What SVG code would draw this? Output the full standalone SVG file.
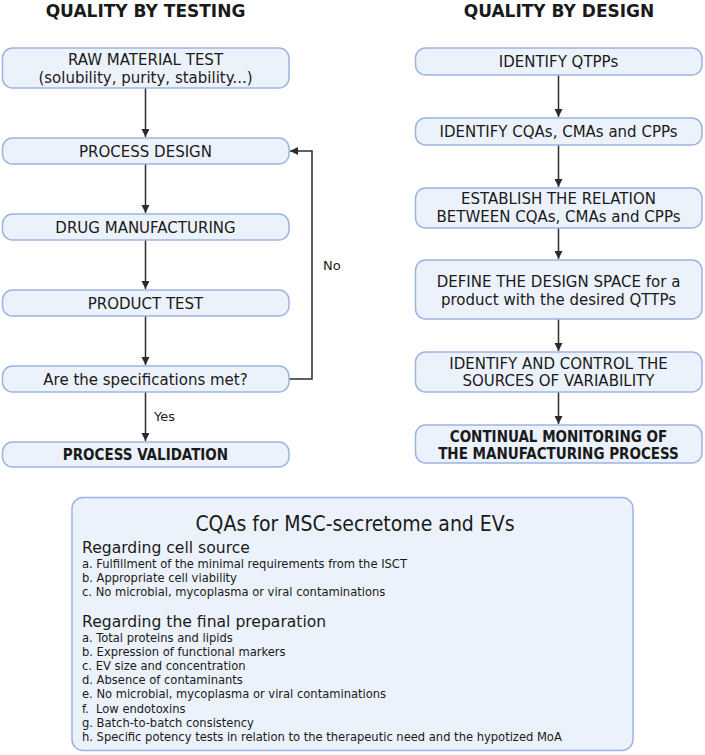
<svg xmlns="http://www.w3.org/2000/svg" width="705" height="755" viewBox="0 0 705 755">
<style>
text{font-family:"DejaVu Sans","Liberation Sans",sans-serif;fill:#1a1a1a}
.title{font-size:17px;font-weight:bold;text-anchor:middle}
.box{fill:#ecf2fb;stroke:#9db4e2;stroke-width:1.5}
.nt{font-size:15px;text-anchor:middle}
.cd{font-family:"DejaVu Sans Condensed","DejaVu Sans","Liberation Sans Narrow",sans-serif;font-stretch:condensed}
.b{font-weight:bold}
.lbl{font-size:13px}
.conn{fill:none;stroke:#2b2b2b;stroke-width:1.5}
.h1{font-size:21px;text-anchor:middle}
.h2{font-size:15.6px}
.it{font-size:12.8px;white-space:pre}
</style>
<defs>
<marker id="ah" viewBox="0 0 10 10" refX="10" refY="5" markerWidth="5.5" markerHeight="5.5" orient="auto" markerUnits="strokeWidth">
<path d="M0,0 L10,5 L0,10 z" fill="#2b2b2b"/>
</marker>
</defs>
<text class="title" x="145.5" y="17">QUALITY BY TESTING</text>
<text class="title" x="559" y="17">QUALITY BY DESIGN</text>

<g id="connectors">
<line class="conn" x1="145.5" y1="88" x2="145.5" y2="137" marker-end="url(#ah)"/>
<line class="conn" x1="145.5" y1="164" x2="145.5" y2="213" marker-end="url(#ah)"/>
<line class="conn" x1="145.5" y1="240" x2="145.5" y2="289" marker-end="url(#ah)"/>
<line class="conn" x1="145.5" y1="316" x2="145.5" y2="365" marker-end="url(#ah)"/>
<line class="conn" x1="145.5" y1="392" x2="145.5" y2="441" marker-end="url(#ah)"/>
<polyline class="conn" points="289,379 312,379 312,151 290,151" marker-end="url(#ah)"/>
<text class="lbl" x="323" y="270">No</text>
<text class="lbl" x="154" y="421">Yes</text>
<line class="conn" x1="558.5" y1="75" x2="558.5" y2="117" marker-end="url(#ah)"/>
<line class="conn" x1="558.5" y1="145" x2="558.5" y2="187" marker-end="url(#ah)"/>
<line class="conn" x1="558.5" y1="228" x2="558.5" y2="259" marker-end="url(#ah)"/>
<line class="conn" x1="558.5" y1="319" x2="558.5" y2="351" marker-end="url(#ah)"/>
<line class="conn" x1="558.5" y1="392" x2="558.5" y2="424" marker-end="url(#ah)"/>
</g>

<g id="raw-material-test">
<rect class="box" x="2.5" y="48" width="286.5" height="40" rx="10"/>
<text class="nt" x="145.5" y="65">RAW MATERIAL TEST</text>
<text class="nt" x="145.5" y="82.5">(solubility, purity, stability...)</text>
</g>
<g id="process-design">
<rect class="box" x="2.5" y="138" width="286.5" height="26" rx="10"/>
<text class="nt" x="145.5" y="156.5">PROCESS DESIGN</text>
</g>
<g id="drug-manufacturing">
<rect class="box" x="2.5" y="214" width="286.5" height="26" rx="10"/>
<text class="nt" x="145.5" y="232.5">DRUG MANUFACTURING</text>
</g>
<g id="product-test">
<rect class="box" x="2.5" y="290" width="286.5" height="26" rx="10"/>
<text class="nt" x="145.5" y="308.5">PRODUCT TEST</text>
</g>
<g id="specifications-met">
<rect class="box" x="2.5" y="366" width="286.5" height="26" rx="10"/>
<text class="nt" x="145.5" y="384.5">Are the specifications met?</text>
</g>
<g id="process-validation">
<rect class="box" x="2.5" y="442" width="286.5" height="25" rx="10"/>
<text class="nt cd b" x="145.5" y="460">PROCESS VALIDATION</text>
</g>

<g id="identify-qtpps">
<rect class="box" x="415.5" y="48" width="286.5" height="27" rx="10"/>
<text class="nt" x="558.5" y="67">IDENTIFY QTPPs</text>
</g>
<g id="identify-cqas">
<rect class="box" x="415.5" y="118" width="286.5" height="27" rx="10"/>
<text class="nt" x="558.5" y="137">IDENTIFY CQAs, CMAs and CPPs</text>
</g>
<g id="establish-relation">
<rect class="box" x="415.5" y="188" width="286.5" height="40" rx="10"/>
<text class="nt" x="558.5" y="204">ESTABLISH THE RELATION</text>
<text class="nt" x="558.5" y="221.5">BETWEEN CQAs, CMAs and CPPs</text>
</g>
<g id="define-design-space">
<rect class="box" x="415.5" y="260" width="286.5" height="59" rx="10"/>
<text class="nt" x="558.5" y="287">DEFINE THE DESIGN SPACE for a</text>
<text class="nt" x="558.5" y="304.5">product with the desired QTTPs</text>
</g>
<g id="control-variability">
<rect class="box" x="415.5" y="352" width="286.5" height="40" rx="10"/>
<text class="nt" x="558.5" y="368.5">IDENTIFY AND CONTROL THE</text>
<text class="nt" x="558.5" y="386">SOURCES OF VARIABILITY</text>
</g>
<g id="continual-monitoring">
<rect class="box" x="415.5" y="425" width="286.5" height="38" rx="10"/>
<text class="nt cd b" x="558.5" y="442">CONTINUAL MONITORING OF</text>
<text class="nt cd b" x="558.5" y="459">THE MANUFACTURING PROCESS</text>
</g>

<g id="cqas-box">
<rect class="box" x="72" y="497.5" width="561" height="253" rx="11"/>
<text class="h1 cd" x="355" y="531">CQAs for MSC-secretome and EVs</text>
<text class="h2" x="82" y="553">Regarding cell source</text>
<text class="it cd" x="82" y="568">a. Fulfillment of the minimal requirements from the ISCT</text>
<text class="it cd" x="82" y="582">b. Appropriate cell viability</text>
<text class="it cd" x="82" y="596">c. No microbial, mycoplasma or viral contaminations</text>
<text class="h2" x="82" y="627">Regarding the final preparation</text>
<text class="it cd" x="82" y="641.5">a. Total proteins and lipids</text>
<text class="it cd" x="82" y="655.7">b. Expression of functional markers</text>
<text class="it cd" x="82" y="669.9">c. EV size and concentration</text>
<text class="it cd" x="82" y="684.1">d. Absence of contaminants</text>
<text class="it cd" x="82" y="698.3">e. No microbial, mycoplasma or viral contaminations</text>
<text class="it cd" x="82" y="712.5">f.  Low endotoxins</text>
<text class="it cd" x="82" y="726.7">g. Batch-to-batch consistency</text>
<text class="it cd" x="82" y="740.9">h. Specific potency tests in relation to the therapeutic need and the hypotized MoA</text>
</g>
</svg>
